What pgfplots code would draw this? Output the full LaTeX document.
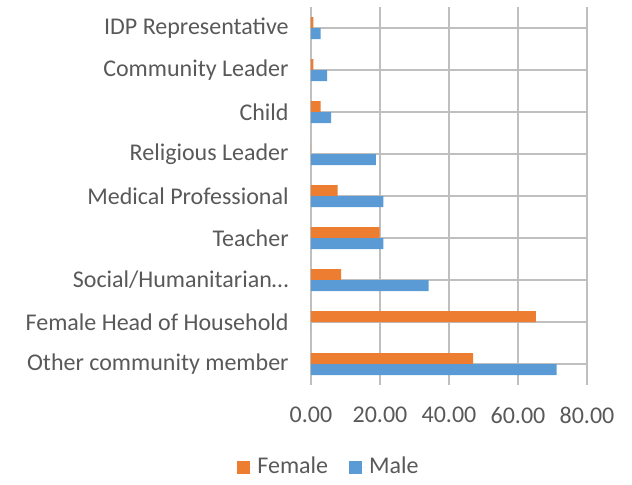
\documentclass[border=0pt]{standalone}
\usepackage{fontspec}
\setmainfont{Carlito}
\usepackage{pgfplots}
\pgfplotsset{compat=1.18}

\definecolor{female}{HTML}{ED7D31}
\definecolor{male}{HTML}{5B9BD5}
\definecolor{txt}{HTML}{595959}
\definecolor{grid}{HTML}{D9D9D9}

% index 0 = bottom category
\pgfplotstableread{
idx female male
0 47.0 71.2
1 65.2 0
2 8.7 34.1
3 19.9 21.0
4 7.7 21.0
5 0 18.8
6 2.8 5.8
7 0.7 4.7
8 0.7 2.8
}\roles

\begin{document}
\begin{tikzpicture}
\begin{axis}[
    xbar,
    scale only axis,
    width=138pt,
    height=189pt,
    xmin=0, xmax=80,
    ymin=-0.5, ymax=8.5,
    xtick={0,20,...,80},
    ytick={0,...,8},
    yticklabels={
        Other community member,
        Female Head of Household,
        Social/Humanitarian…,
        Teacher,
        Medical Professional,
        Religious Leader,
        Child,
        Community Leader,
        IDP Representative
    },
    xmajorgrids,
    grid style={grid, line width=0.9pt},
    axis line style={draw=none},
    major tick length=0pt,
    bar width=5.5pt,
    /pgf/number format/assume math mode=true,
    xticklabel={\pgfmathprintnumber[fixed, fixed zerofill, precision=2]{\tick}},
    tick label style={font=\fontsize{12}{14}\selectfont, text=txt},
    yticklabel style={anchor=east, inner sep=0pt, xshift=-11pt},
    xticklabel style={anchor=north, inner sep=0pt, yshift=-11pt},
    legend style={
        at={(0.069,-0.217)}, anchor=center,
        draw=none, fill=none,
        font=\fontsize{12}{14}\selectfont, text=txt,
        legend columns=2,
        /tikz/every even column/.append style={column sep=8.5pt},
    },
    legend image code/.code={
        \path (0pt,0pt) -- (8pt,0pt);
        \fill[#1] (0pt,-3.25pt) rectangle (6.5pt,3.25pt);
    },
]
\coordinate (o) at (rel axis cs:0,0);
\addplot[fill=female, draw=none, bar shift=2.75pt] table[x=female, y=idx] {\roles};
\addlegendentry{Female}
\addplot[fill=male, draw=none, bar shift=-2.75pt] table[x=male, y=idx] {\roles};
\addlegendentry{Male}
\end{axis}
\path (o) ++(-155.5pt,-48pt) rectangle ++(316pt,240.5pt);
\end{tikzpicture}
\end{document}
